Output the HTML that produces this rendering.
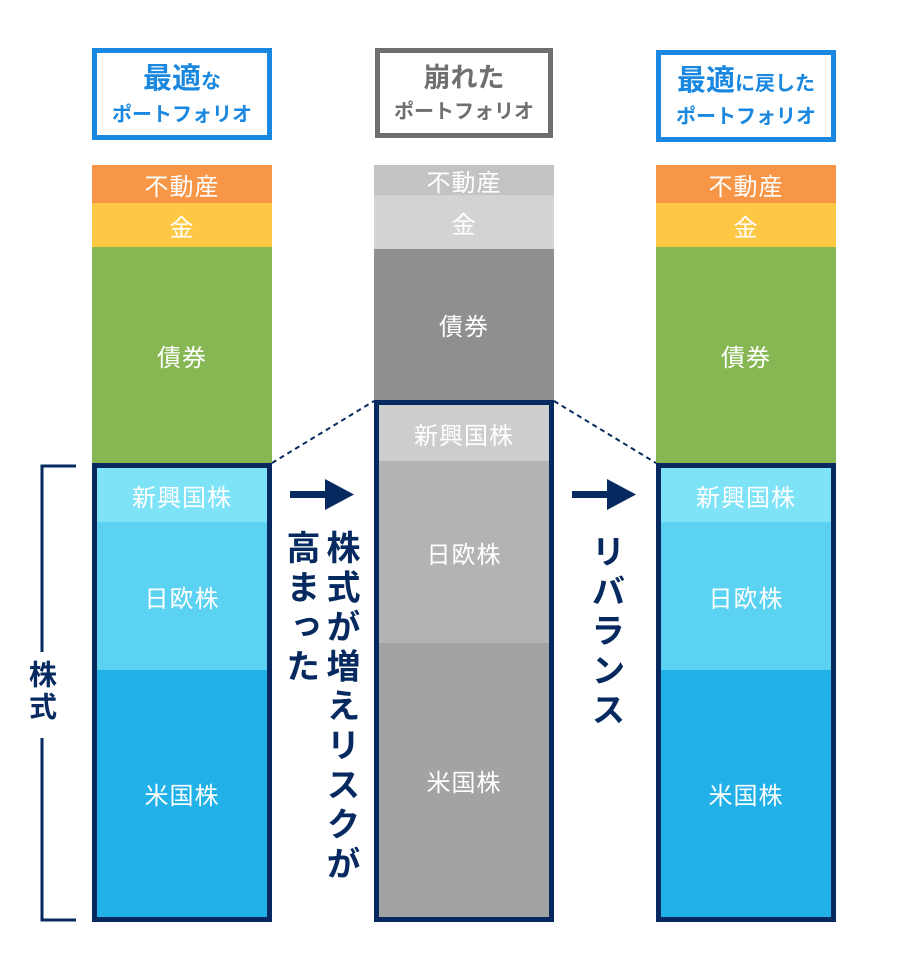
<!DOCTYPE html>
<html><head><meta charset="utf-8"><style>
body{margin:0;width:920px;height:972px;background:#fff;position:relative;overflow:hidden;font-family:"Liberation Sans","Noto Sans CJK JP",sans-serif}
.a{position:absolute;box-sizing:border-box}
.s{position:absolute;left:0;width:100%;display:flex;align-items:center;justify-content:center;color:#fff;font-size:24px;letter-spacing:1px}
.h{position:absolute;box-sizing:border-box;border:5px solid;display:flex;flex-direction:column;align-items:center;justify-content:center;font-weight:bold;background:#fff}
.v{position:absolute;writing-mode:vertical-rl;font-weight:bold;color:#062a5f;font-size:34px;letter-spacing:5.5px;line-height:1}
</style></head><body>
<div class="h" style="left:92px;top:48px;width:180px;height:92px;border-color:#1a88e0;color:#1a88e0"><div style="font-size:29px;line-height:1.25">最適<span style="font-size:20px">な</span></div><div style="font-size:20px">ポートフォリオ</div></div>
<div class="h" style="left:375px;top:48px;width:178px;height:90px;border-color:#6f6f6f;color:#6f6f6f"><div style="font-size:27px;line-height:1.25">崩れた</div><div style="font-size:20px">ポートフォリオ</div></div>
<div class="h" style="left:656px;top:50px;width:180px;height:92px;border-color:#1a88e0;color:#1a88e0"><div style="font-size:29px;line-height:1.25;white-space:nowrap">最適<span style="font-size:20px">に戻した</span></div><div style="font-size:20px">ポートフォリオ</div></div>

<div class="a" style="left:92px;top:165px;width:180px;height:757px">
<div class="s" style="top:0;height:38px;background:#f79646">不動産</div>
<div class="s" style="top:38px;height:44px;background:#fec844">金</div>
<div class="s" style="top:82px;height:216px;background:#86b753">債券</div>
<div class="a" style="top:298px;left:0;width:180px;height:459px;border:5px solid #062a5f">
<div class="s" style="top:0;height:54px;background:#7fe3f8">新興国株</div>
<div class="s" style="top:54px;height:148px;background:#5bd2f2">日欧株</div>
<div class="s" style="top:202px;height:247px;background:#21b1e8">米国株</div>
</div></div>

<div class="a" style="left:374px;top:165px;width:180px;height:757px">
<div class="s" style="top:0;height:30px;background:#c3c3c3">不動産</div>
<div class="s" style="top:30px;height:54px;background:#d3d3d3">金</div>
<div class="s" style="top:84px;height:151px;background:#8f8f8f">債券</div>
<div class="a" style="top:235px;left:0;width:180px;height:522px;border:5px solid #062a5f">
<div class="s" style="top:0;height:56px;background:#cdcdcd">新興国株</div>
<div class="s" style="top:56px;height:182px;background:#b3b3b3">日欧株</div>
<div class="s" style="top:238px;height:274px;background:#a3a3a3">米国株</div>
</div></div>

<div class="a" style="left:656px;top:165px;width:180px;height:757px">
<div class="s" style="top:0;height:38px;background:#f79646">不動産</div>
<div class="s" style="top:38px;height:44px;background:#fec844">金</div>
<div class="s" style="top:82px;height:216px;background:#86b753">債券</div>
<div class="a" style="top:298px;left:0;width:180px;height:459px;border:5px solid #062a5f">
<div class="s" style="top:0;height:54px;background:#7fe3f8">新興国株</div>
<div class="s" style="top:54px;height:148px;background:#5bd2f2">日欧株</div>
<div class="s" style="top:202px;height:247px;background:#21b1e8">米国株</div>
</div></div>

<svg class="a" style="left:0;top:0" width="920" height="972">
<g stroke="#062a5f" stroke-width="2" stroke-dasharray="5,4" fill="none">
<line x1="272" y1="463" x2="374" y2="401"/>
<line x1="554" y1="401" x2="656" y2="463"/>
</g>
<g stroke="#062a5f" stroke-width="3" fill="none">
<path d="M76 466 H42 V652"/>
<path d="M42 738 V920 H76"/>
</g>
<g fill="#062a5f">
<rect x="290" y="491" width="40" height="7"/><polygon points="325,479 354,494.5 325,510"/>
<rect x="572" y="491" width="40" height="7"/><polygon points="607,479 636,494.5 607,510"/>
</g>
</svg>
<div class="v" style="left:27px;top:660px;font-size:28px;letter-spacing:4px">株式</div>
<div class="v" style="left:323px;top:530px">株式が増えリスクが</div>
<div class="v" style="left:283px;top:530px">高まった</div>
<div class="v" style="left:588px;top:534px">リバランス</div>
</body></html>
